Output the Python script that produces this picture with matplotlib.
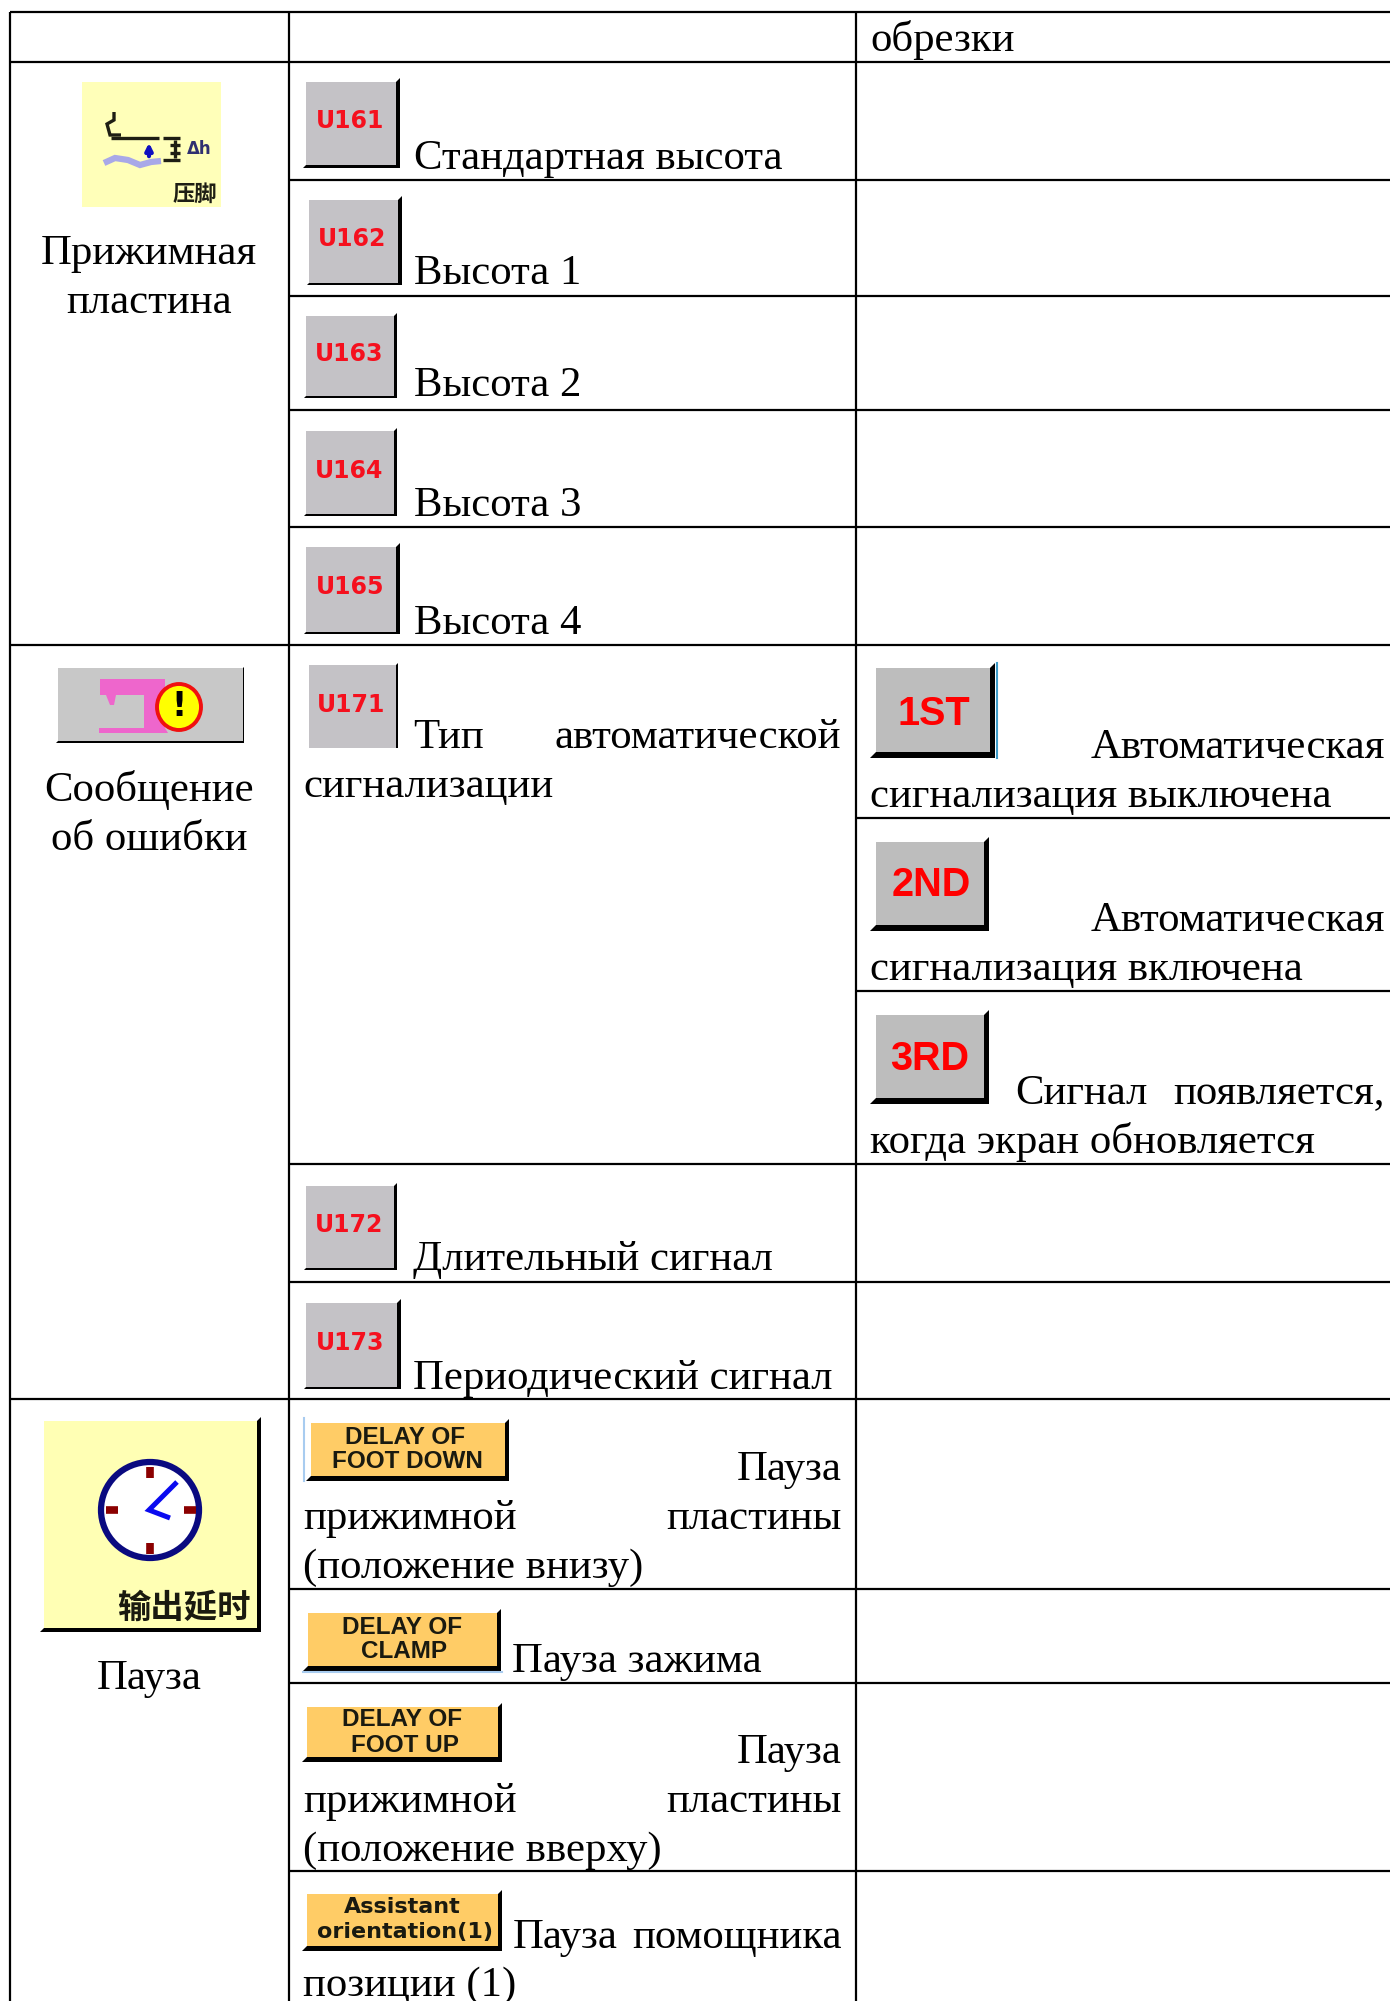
import matplotlib
matplotlib.use('Agg')
from matplotlib import pyplot as plt
from matplotlib.patches import Rectangle, Polygon, Ellipse

plt.rcParams['font.family'] = ['Liberation Serif', 'DejaVu Sans']

# table rules: y, x start, x end
h_rules = [(12, 10, 1390), (62, 10, 1390), (180, 289, 1390), (296, 289, 1390), (410, 289, 1390),
           (527, 289, 1390), (645, 10, 1390), (818, 856, 1390), (991, 856, 1390), (1164, 289, 1390),
           (1282, 289, 1390), (1399, 10, 1390), (1589, 289, 1390), (1683, 289, 1390), (1871, 289, 1390)]
v_rules = [(10, 12, 2001), (289, 12, 2001), (856, 12, 2001)]

# cell text: x, baseline y, text, alignment
left_col = [(149, 264, 'Прижимная'), (149, 313, 'пластина'),
            (149, 801, 'Сообщение'), (149, 850, 'об ошибки'),
            (149, 1689, 'Пауза')]
cell_text = [(870, 51, 'обрезки', 'left'),
             (414, 169, 'Стандартная высота', 'left'),
             (414, 284, 'Высота 1', 'left'),
             (414, 396, 'Высота 2', 'left'),
             (414, 516, 'Высота 3', 'left'),
             (414, 634, 'Высота 4', 'left'),
             (413, 748, 'Тип', 'left'), (841, 748, 'автоматической', 'right'),
             (303, 797, 'сигнализации', 'left'),
             (1385, 758, 'Автоматическая', 'right'),
             (870, 807, 'сигнализация выключена', 'left'),
             (1385, 931, 'Автоматическая', 'right'),
             (870, 980, 'сигнализация включена', 'left'),
             (1015, 1104, 'Сигнал', 'left'), (1385, 1104, 'появляется,', 'right'),
             (870, 1153, 'когда экран обновляется', 'left'),
             (413, 1270, 'Длительный сигнал', 'left'),
             (413, 1389, 'Периодический сигнал', 'left'),
             (842, 1480, 'Пауза', 'right'),
             (303, 1529, 'прижимной', 'left'), (842, 1529, 'пластины', 'right'),
             (303, 1578, '(положение внизу)', 'left'),
             (512, 1672, 'Пауза зажима', 'left'),
             (842, 1763, 'Пауза', 'right'),
             (303, 1812, 'прижимной', 'left'), (842, 1812, 'пластины', 'right'),
             (303, 1861, '(положение вверху)', 'left'),
             (513, 1948, 'Пауза', 'left'), (842, 1948, 'помощника', 'right'),
             (303, 1996, 'позиции (1)', 'left')]

# gray buttons: label, x0, x1, y0, y1, bar width, bottom height
u_buttons = [('U161', 306, 396, 82, 165, 4, 3), ('U162', 309, 398, 200, 283, 4, 2),
             ('U163', 306, 394, 316, 396, 3, 2), ('U164', 306, 394, 431, 514, 3, 2),
             ('U165', 306, 396, 547, 632, 4, 2), ('U171', 309, 396, 665, 748, 2, 0),
             ('U172', 306, 394, 1186, 1268, 3, 2), ('U173', 306, 397, 1303, 1387, 4, 2)]
big_buttons = [('1ST', 876, 990, 668, 752, 934, 714), ('2ND', 876, 984, 842, 925, 931, 885),
               ('3RD', 876, 984, 1015, 1098, 930, 1059)]
# orange buttons: line 1, line 2, x0, x1, y0, y1, y line 1, y line 2
orange_buttons = [('DELAY OF', 'FOOT DOWN', 311, 505, 1423, 1476, 1437, 1462),
                  ('DELAY OF', 'CLAMP', 308, 497, 1613, 1666, 1627, 1652),
                  ('DELAY OF', 'FOOT UP', 307, 498, 1707, 1757, 1719, 1745),
                  ('Assistant', 'orientation(1)', 307, 498, 1894, 1946, 1907, 1932)]

foot_lines = [[(114, 112), (114, 120), (107, 124), (110, 135), (121, 135)],
              [(111, 138), (159, 138)], [(163, 138), (180, 138)], [(163, 160), (180, 160)],
              [(175, 140), (175, 158)], [(170, 145), (180, 145)], [(170, 153), (180, 153)]]
foot_wave = [(104, 163), (115, 158), (128, 160), (140, 165), (151, 162), (161, 161)]
machine_shape = [(100, 679), (165, 679), (165, 728), (168, 733), (99, 733), (99, 728), (144, 728),
                 (144, 695), (116, 695), (114, 705), (110, 705), (106, 695), (100, 695)]
clock_marks = [(150, 1467, 150, 1478), (150, 1543, 150, 1554), (106, 1510, 118, 1510), (184, 1510, 196, 1510)]
clock_hands = [[(177, 1482), (149, 1510), (170, 1518)]]

fig = plt.figure(figsize=(13.9, 20.01), dpi=100, facecolor='white')
ax = fig.add_axes([0, 0, 1, 1])
ax.set_xlim(0, 1390)
ax.set_ylim(2001, 0)
ax.axis('off')


def path(points, color, lw, z=5):
    ax.plot([p[0] for p in points], [p[1] for p in points], color=color, lw=lw, zorder=z,
            solid_capstyle='butt', solid_joinstyle='miter')


def button(x0, x1, y0, y1, face, bar, low):
    ax.add_patch(Rectangle((x0, y0), x1 - x0, y1 - y0, fc=face, ec='none', zorder=3))
    if bar:
        ax.add_patch(Polygon([(x1, y0), (x1 + bar, y0 - bar), (x1 + bar, y1 + low), (x1, y1)],
                             fc='black', ec='none', zorder=4))
    if low:
        ax.add_patch(Polygon([(x0, y1), (x1 + bar, y1), (x1 + bar, y1 + low), (x0 - low, y1 + low)],
                             fc='black', ec='none', zorder=4))


for y, a, b in h_rules:
    ax.plot([a, b], [y, y], color='black', lw=1.6, zorder=2, solid_capstyle='butt')
for x, a, b in v_rules:
    ax.plot([x, x], [a, b], color='black', lw=1.6, zorder=2, solid_capstyle='butt')

for x, y, s in left_col:
    ax.text(x, y, s, ha='center', va='baseline', fontsize=30.8, color='black', zorder=6)
for x, y, s, al in cell_text:
    ax.text(x, y, s, ha=al, va='baseline', fontsize=30.8, color='black', zorder=6)

for lab, x0, x1, y0, y1, bar, low in u_buttons:
    button(x0, x1, y0, y1, '#C4C2C6', bar, low)
    ax.text((x0 + x1) / 2 - 1, (y0 + y1) / 2 - 2, lab, ha='center', va='center', fontsize=17,
            color='#F5101E', family='DejaVu Sans', weight='bold', zorder=6)

for lab, x0, x1, y0, y1, tx, ty in big_buttons:
    button(x0, x1, y0, y1, '#BDBDBD', 5, 6)
    ax.text(tx, ty, lab, ha='center', va='center', fontsize=28.5, color='#FF0000',
            family='Liberation Sans', weight='bold', zorder=6)
ax.plot([997, 997], [663, 758], color='#3D9BC8', lw=1.5, zorder=5)

for l1, l2, x0, x1, y0, y1, y_a, y_b in orange_buttons:
    button(x0, x1, y0, y1, '#FFCC66', 4, 5)
    small = l1 == 'Assistant'
    fam = 'DejaVu Sans' if small else 'Liberation Sans'
    ax.text((x0 + x1) / 2 - (3 if l2 == 'FOOT DOWN' else 0), y_a, l1, ha='center', va='center',
            fontsize=16 if small else 17.5, family=fam, weight='bold', color='#1A1A10', zorder=6)
    ax.text((x0 + x1) / 2 + (-1 if l2 == 'FOOT DOWN' else 2), y_b, l2, ha='center', va='center',
            fontsize=16 if small else 17.5, family=fam, weight='bold', color='#1A1A10', zorder=6)
ax.plot([304, 304], [1418, 1481], color='#A8CCF0', lw=1.5, zorder=5)
ax.plot([303, 502], [1672, 1672], color='#A8CCF0', lw=1.5, zorder=5)

# foot icon
ax.add_patch(Rectangle((82, 82), 139, 125, fc='#FFFFB9', ec='none', zorder=3))
for pts in foot_lines:
    path(pts, '#1E1E14', 2.4)
path(foot_wave, '#A8A8E8', 4.5)
ax.annotate('', xy=(149, 140), xytext=(149, 159), zorder=6,
            arrowprops=dict(arrowstyle='-|>', color='#1010C0', lw=3))
ax.text(199, 149, 'Δh', ha='center', va='center', fontsize=12, color='#303070', weight='bold',
        family='DejaVu Sans', zorder=6)
ax.text(195, 194, '压脚', ha='center', va='center', fontsize=16, color='#1E1E14', weight='bold',
        family=['Noto Sans CJK SC', 'DejaVu Sans'], zorder=6)

# error icon
button(58, 243, 668, 741, '#C8C8C8', 1, 2)
ax.add_patch(Polygon(machine_shape, fc='#EE66CC', ec='none', zorder=5))
ax.add_patch(Ellipse((179, 707), 44, 46, fc='#FFFF00', ec='#F01010', lw=2.8, zorder=6))
ax.text(179, 706, '!', ha='center', va='center', fontsize=24, color='black', weight='bold',
        family='DejaVu Sans', zorder=7)

# clock icon
button(44, 257, 1421, 1628, '#FFFFB4', 4, 4)
ax.add_patch(Ellipse((150, 1510), 98, 96, fc='white', ec='#0A0A80', lw=4.5, zorder=5))
for xa, ya, xb, yb in clock_marks:
    ax.plot([xa, xb], [ya, yb], color='#8B0000', lw=5.5, zorder=6, solid_capstyle='butt')
for pts in clock_hands:
    path(pts, '#0A0AF0', 3.6, 7)
ax.text(184, 1608, '输出延时', ha='center', va='center', fontsize=24, color='#1A1A10', weight='bold',
        family=['Noto Sans CJK SC', 'DejaVu Sans'], zorder=6)

fig.savefig('out.png', dpi=100)
